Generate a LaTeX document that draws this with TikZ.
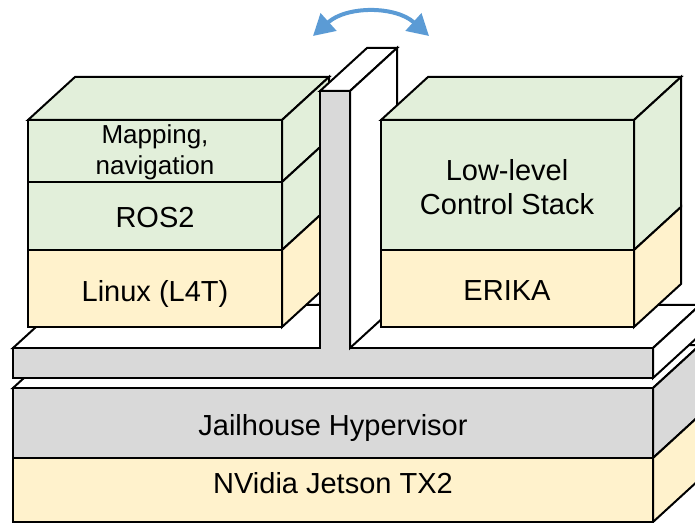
\documentclass[tikz,border=0pt]{standalone}
\usepackage{fontspec}
\setmainfont{Liberation Sans}
\usetikzlibrary{arrows.meta}
\definecolor{stackgreen}{RGB}{226, 239, 218}
\definecolor{stackyellow}{RGB}{255, 242, 204}
\definecolor{stackgrey}{RGB}{217, 217, 217}
\definecolor{stackblue}{RGB}{91, 155, 213}

\begin{document}
\begin{tikzpicture}[x=0.5pt, y=-0.5pt,
        face/.style={draw=black, line width=1pt},
        green face/.style={face, fill=stackgreen},
        yellow face/.style={face, fill=stackyellow},
        grey face/.style={face, fill=stackgrey},
        white face/.style={face, fill=white},
        layer label/.style={font=\fontsize{14.5}{17}\selectfont, align=center, inner sep=0pt},
        swap arrow/.style={stackblue, line width=2pt, {Triangle[length=10.5pt, width=11.5pt]}-{Triangle[length=10.5pt, width=11.5pt]}}]

            \clip (0,0) rectangle (695,523);

            % Board and hypervisor
            \draw[white face] (13,388) -- (60,345) -- (700,345) -- (653,388) -- cycle;
            \draw[grey face] (13,388) rectangle (653,458);
            \draw[grey face] (653,388) -- (700,345) -- (700,415) -- (653,458) -- cycle;
            \draw[yellow face] (13,458) rectangle (653,522);
            \draw[yellow face] (653,458) -- (700,415) -- (700,479) -- (653,522) -- cycle;

            % Partition plate
            \draw[white face] (13,348) -- (60,305) -- (700,305) -- (653,348) -- cycle;
            \draw[white face] (653,348) -- (700,305) -- (700,335) -- (653,378) -- cycle;

            % Linux cell
            \draw[green face] (28,120) -- (75,77) -- (329,77) -- (282,120) -- cycle;
            \draw[green face] (28,120) rectangle (282,182);
            \draw[green face] (282,120) -- (329,77) -- (329,139) -- (282,182) -- cycle;
            \draw[green face] (28,182) rectangle (282,250);
            \draw[green face] (282,182) -- (329,139) -- (329,207) -- (282,250) -- cycle;
            \draw[yellow face] (28,250) rectangle (282,327);
            \draw[yellow face] (282,250) -- (329,207) -- (329,284) -- (282,327) -- cycle;

            % Partition wall
            \draw[grey face] (13,348) -- (320,348) -- (320,91) -- (350,91) -- (350,348)
                -- (653,348) -- (653,378) -- (13,378) -- cycle;
            \draw[white face] (320,91) -- (367,48) -- (397,48) -- (350,91) -- cycle;
            \draw[white face] (350,91) -- (397,48) -- (397,305) -- (350,348) -- cycle;

            % ERIKA cell
            \draw[green face] (381,120) -- (428,77) -- (681,77) -- (634,120) -- cycle;
            \draw[green face] (381,120) rectangle (634,250);
            \draw[green face] (634,120) -- (681,77) -- (681,207) -- (634,250) -- cycle;
            \draw[yellow face] (381,250) rectangle (634,327);
            \draw[yellow face] (634,250) -- (681,207) -- (681,284) -- (634,327) -- cycle;

            % Labels
            \node[layer label, font=\fontsize{13}{15.5}\selectfont] (mapping) at (155,152) {Mapping,\\navigation};
            \node[layer label, anchor=base] (ros) at (155,228) {ROS2};
            \node[layer label, anchor=base] (linux) at (155,301) {Linux (L4T)};
            \node[layer label] (lowlevel) at (507,187) {Low-level\\Control Stack};
            \node[layer label, anchor=base] (erika) at (507,300) {ERIKA};
            \node[layer label, anchor=base] (jailhouse) at (333,435) {Jailhouse Hypervisor};
            \node[layer label, anchor=base] (jetson) at (333,493) {NVidia Jetson TX2};

            % Switch between the two cells
            \coordinate (swapL) at (313,36);
            \coordinate (swapR) at (429,36);
            \draw[swap arrow] (swapL) to[bend left=42] (swapR);

    \end{tikzpicture}
\end{document}
